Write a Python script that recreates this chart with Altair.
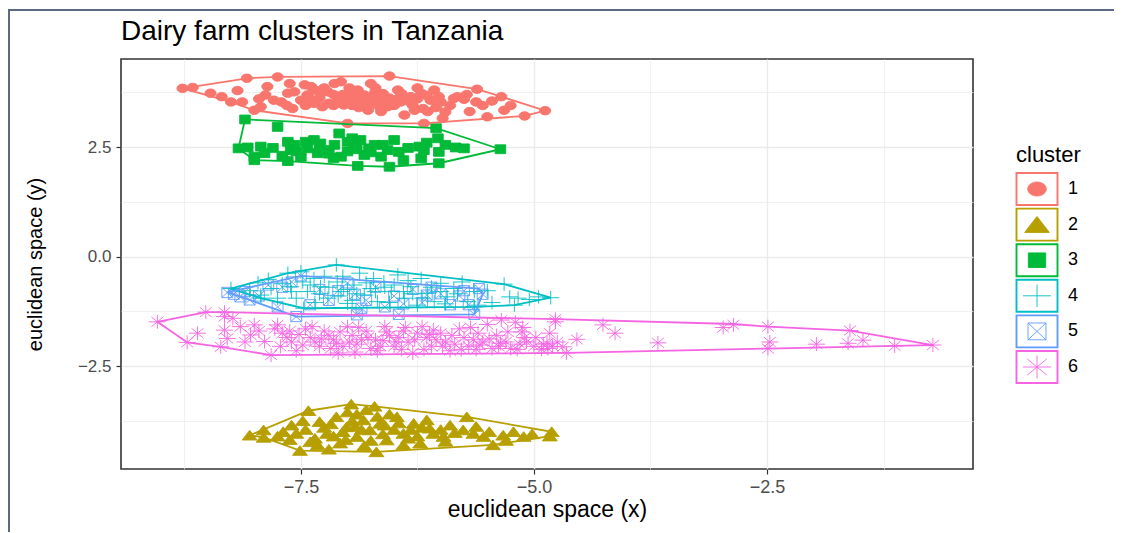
import altair as alt
import pandas as pd

clusters = ["1", "2", "3", "4", "5", "6"]
colors = ["#F8766D", "#B79F00", "#00BA38", "#00BFC4", "#619CFF", "#F564E3"]

# cluster points (x, y)
c1_pts = [(-8.77,3.84),(-8.66,3.86),(-8.47,3.73),(-8.25,3.53),(-8.18,3.79),(-8.13,3.53),(-8.08,4.07),(-7.93,3.42),(-8.00,3.34),(-7.86,3.88),(-7.88,3.69),(-7.75,4.10),(-7.79,3.57),(-7.71,3.53),(-7.64,3.73),(-7.57,3.76),(-7.59,3.38),(-7.50,3.57),(-7.46,3.92),(-7.43,3.69),(-7.39,3.88),(-7.36,3.50),(-7.29,3.73),(-7.27,3.42),(-7.21,3.76),(-7.14,3.95),(-7.11,3.65),(-7.07,3.99),(-7.04,3.46),(-7.00,3.04),(-6.96,3.73),(-6.93,3.61),(-6.89,3.80),(-6.85,3.50),(-6.82,3.69),(-6.78,3.34),(-6.75,3.95),(-6.71,3.73),(-6.68,3.57),(-6.64,3.31),(-6.61,3.65),(-6.57,3.42),(-6.55,4.12),(-6.53,3.57),(-6.46,3.80),(-6.43,3.53),(-6.39,3.23),(-6.32,3.65),(-6.28,3.34),(-6.21,3.73),(-6.19,3.38),(-6.18,3.04),(-6.14,3.31),(-6.11,3.57),(-6.07,3.80),(-6.00,3.53),(-5.98,3.16),(-5.86,3.61),(-5.82,3.65),(-5.75,3.59),(-5.69,3.31),(-5.62,3.53),(-5.61,3.82),(-5.50,3.19),(-5.35,3.65),(-5.32,3.34),(-5.10,3.21),(-4.88,3.33),(-7.00,3.55),(-6.90,3.70),(-6.80,3.58),(-6.70,3.65),(-6.60,3.50),(-7.10,3.60),(-7.20,3.50),(-6.75,3.47),(-6.65,3.40),(-6.95,3.45),(-7.30,3.62),(-6.50,3.45),(-7.40,3.60),(-6.35,3.55),(-6.25,3.60),(-7.05,3.70),(-6.85,3.62),(-6.62,3.72),(-6.90,3.55),(-7.15,3.45),(-6.45,3.62),(-6.98,3.85),(-6.70,3.85),(-7.35,3.80),(-5.90,3.45),(-5.55,3.45),(-6.05,3.40),(-7.95,3.60),(-7.65,3.45),(-7.45,3.45),(-7.25,3.85),(-7.15,3.70),(-6.98,3.60),(-6.88,3.40),(-6.72,3.52),(-6.55,3.62),(-6.42,3.72),(-6.30,3.45),(-6.15,3.68),(-6.02,3.65),(-5.95,3.30),(-5.72,3.70),(-5.45,3.55),(-5.25,3.45),(-8.35,3.65),(-7.62,3.95),(-6.25,3.85)]
c2_pts = [(-8.05,-4.08),(-7.90,-3.96),(-7.69,-4.00),(-7.55,-4.04),(-7.51,-4.43),(-7.42,-3.52),(-7.40,-4.23),(-7.30,-3.77),(-7.22,-4.04),(-7.12,-3.66),(-7.08,-4.26),(-7.01,-3.89),(-6.96,-3.37),(-6.90,-4.11),(-6.83,-3.73),(-6.76,-3.96),(-6.71,-3.42),(-6.69,-4.46),(-6.65,-3.81),(-6.58,-4.19),(-6.47,-3.66),(-6.40,-4.04),(-6.29,-3.81),(-6.22,-4.26),(-6.15,-3.73),(-6.08,-4.04),(-5.97,-4.11),(-5.90,-3.85),(-5.76,-3.96),(-5.72,-3.66),(-5.65,-4.04),(-5.54,-4.11),(-5.44,-4.30),(-5.33,-4.08),(-5.22,-4.00),(-5.11,-4.11),(-4.81,-4.00),(-4.83,-4.10),(-7.90,-4.13),(-7.60,-3.85),(-7.45,-3.95),(-7.25,-3.90),(-7.15,-4.10),(-6.95,-3.75),(-6.85,-3.95),(-6.75,-4.20),(-6.60,-3.85),(-6.50,-3.95),(-6.35,-4.15),(-6.20,-3.90),(-6.00,-3.95),(-7.35,-4.15),(-7.05,-4.00),(-6.90,-3.60),(-7.00,-3.55),(-6.80,-3.50),(-6.55,-3.60),(-7.75,-4.10),(-7.62,-4.18),(-7.48,-3.75),(-7.32,-4.30),(-7.18,-3.82),(-7.02,-4.18),(-6.92,-3.88),(-6.82,-4.32),(-6.68,-3.65),(-6.62,-4.05),(-6.45,-3.80),(-6.32,-3.95),(-6.25,-4.10),(-6.12,-3.92),(-5.95,-4.22),(-5.85,-4.02),(-5.62,-3.88),(-5.48,-4.00),(-5.30,-4.20),(-5.02,-4.05),(-7.20,-4.40),(-6.40,-4.30)]
c3_pts = [(-8.10,3.13),(-7.75,2.96),(-8.17,2.47),(-8.07,2.49),(-8.00,2.28),(-7.93,2.51),(-7.89,2.36),(-8.00,2.20),(-7.64,2.62),(-7.61,2.43),(-7.64,2.18),(-7.57,2.55),(-7.50,2.28),(-7.43,2.47),(-7.36,2.66),(-7.32,2.36),(-7.29,2.58),(-7.21,2.43),(-7.14,2.55),(-7.09,2.81),(-7.07,2.28),(-7.00,2.62),(-6.93,2.51),(-6.89,2.07),(-6.86,2.66),(-6.82,2.32),(-6.77,2.47),(-6.71,2.55),(-6.64,2.28),(-6.57,2.43),(-6.55,2.05),(-6.50,2.66),(-6.45,2.39),(-6.23,2.51),(-6.21,2.24),(-6.18,2.43),(-6.05,2.93),(-6.03,2.70),(-6.02,2.39),(-6.02,2.13),(-5.84,2.49),(-5.75,2.47),(-5.36,2.45),(-7.30,2.45),(-7.00,2.40),(-6.90,2.45),(-7.20,2.35),(-6.75,2.38),(-7.55,2.40),(-7.80,2.48),(-7.45,2.62),(-7.15,2.25),(-6.95,2.70),(-6.62,2.55),(-6.35,2.48),(-6.15,2.60),(-5.95,2.55),(-7.70,2.30),(-6.40,2.20)]
c4_pts = [(-8.25,-0.73),(-7.96,-0.60),(-7.93,-0.88),(-7.82,-0.73),(-7.75,-0.95),(-7.64,-0.38),(-7.61,-0.69),(-7.50,-0.35),(-7.48,-0.58),(-7.43,-0.80),(-7.36,-0.50),(-7.29,-0.69),(-7.21,-0.95),(-7.12,-0.19),(-7.11,-0.58),(-7.07,-0.80),(-7.00,-1.07),(-6.93,-0.65),(-6.87,-0.38),(-6.82,-0.88),(-6.75,-0.73),(-6.68,-1.03),(-6.61,-0.58),(-6.53,-0.80),(-6.46,-0.42),(-6.39,-0.95),(-6.32,-0.69),(-6.25,-1.11),(-6.21,-0.50),(-6.14,-0.84),(-6.07,-1.03),(-6.00,-0.61),(-5.93,-0.92),(-5.86,-0.73),(-5.77,-0.58),(-5.71,-1.03),(-5.64,-0.80),(-5.60,-1.11),(-5.32,-0.63),(-5.26,-0.92),(-5.17,-0.95),(-4.82,-0.94),(-5.21,-1.11),(-5.64,-1.15),(-7.47,-1.18),(-7.93,-0.95),(-7.20,-0.70),(-7.00,-0.75),(-6.90,-0.85),(-6.70,-0.80),(-6.60,-0.70),(-6.40,-0.80),(-7.30,-0.85),(-7.10,-0.90),(-6.50,-0.65),(-6.30,-0.85),(-6.80,-0.60),(-7.40,-0.65),(-7.60,-0.80),(-6.00,-0.80),(-6.10,-0.70),(-8.05,-0.78),(-7.85,-0.52),(-7.70,-0.62),(-7.55,-0.95),(-7.35,-1.05),(-7.25,-0.45),(-7.05,-0.45),(-6.95,-1.00),(-6.72,-0.50),(-6.55,-1.05),(-6.35,-0.55),(-6.20,-0.95),(-5.95,-1.08),(-5.82,-0.85),(-5.50,-0.78),(-5.45,-1.05),(-5.05,-0.98),(-4.95,-0.92)]
c5_pts = [(-8.29,-0.82),(-8.22,-0.86),(-8.10,-0.80),(-7.95,-0.90),(-7.50,-0.44),(-7.55,-1.37),(-7.30,-0.75),(-7.20,-1.00),(-7.00,-0.60),(-6.92,-0.86),(-6.80,-1.00),(-6.70,-0.70),(-6.50,-0.90),(-6.45,-1.32),(-6.30,-0.75),(-6.20,-1.05),(-6.00,-0.85),(-5.90,-1.10),(-5.80,-0.90),(-5.59,-0.73),(-5.55,-0.86),(-5.64,-1.32),(-6.90,-1.33),(-8.05,-0.99),(-7.70,-0.70),(-7.40,-1.10),(-6.60,-1.15),(-6.10,-0.70),(-5.75,-0.78),(-7.85,-0.65),(-8.15,-0.92),(-7.60,-0.58),(-7.10,-0.78),(-6.85,-1.18),(-6.40,-1.08),(-6.15,-0.88),(-5.70,-1.10),(-7.75,-1.15)]
c6_pts = [(-9.04,-1.49),(-8.52,-1.27),(-8.32,-1.27),(-8.32,-1.37),(-8.23,-1.41),(-8.61,-1.75),(-8.72,-1.96),(-8.32,-1.68),(-8.29,-1.87),(-8.36,-2.06),(-8.04,-1.79),(-8.00,-1.56),(-7.89,-1.94),(-7.82,-2.25),(-7.75,-1.56),(-7.70,-1.75),(-7.60,-1.95),(-7.55,-2.15),(-7.45,-1.65),(-7.40,-1.85),(-7.30,-2.05),(-7.25,-1.70),(-7.15,-1.90),(-7.10,-2.20),(-7.00,-1.60),(-6.95,-1.80),(-6.90,-2.00),(-6.80,-1.70),(-6.75,-2.10),(-6.70,-1.90),(-6.60,-1.60),(-6.55,-1.80),(-6.50,-2.05),(-6.40,-1.70),(-6.35,-1.95),(-6.30,-2.20),(-6.20,-1.60),(-6.15,-1.85),(-6.10,-2.05),(-6.00,-1.75),(-5.95,-1.95),(-5.90,-2.15),(-5.80,-1.65),(-5.75,-1.85),(-5.70,-2.05),(-5.60,-1.75),(-5.55,-1.95),(-5.50,-1.55),(-5.45,-2.10),(-5.40,-1.80),(-5.30,-1.95),(-5.25,-2.10),(-5.15,-2.00),(-5.10,-1.85),(-5.00,-2.05),(-4.90,-2.00),(-4.85,-2.10),(-4.75,-1.95),(-7.65,-1.85),(-7.20,-1.80),(-6.85,-1.90),(-6.45,-1.85),(-6.05,-1.90),(-5.65,-1.90),(-7.35,-1.95),(-6.25,-1.75),(-5.85,-2.00),(-7.05,-2.05),(-6.65,-2.05),(-5.20,-1.50),(-5.35,-1.45),(-4.77,-1.49),(-4.83,-1.75),(-5.13,-1.72),(-4.86,-1.98),(-4.69,-2.06),(-4.54,-1.89),(-4.26,-1.56),(-4.13,-1.75),(-3.67,-1.97),(-2.97,-1.62),(-2.86,-1.56),(-2.49,-1.60),(-2.47,-1.95),(-1.97,-2.00),(-1.61,-1.69),(-1.63,-1.98),(-1.47,-1.91),(-1.13,-2.04),(-0.72,-2.02),(-5.36,-1.98),(-4.65,-2.20),(-2.49,-2.10),(-4.77,-1.43),(-7.78,-1.65),(-7.62,-1.70),(-7.48,-2.02),(-7.38,-1.60),(-7.28,-1.88),(-7.18,-2.10),(-7.08,-1.72),(-6.98,-1.95),(-6.88,-1.62),(-6.78,-1.85),(-6.68,-2.15),(-6.58,-1.72),(-6.48,-1.95),(-6.38,-1.62),(-6.28,-1.90),(-6.18,-2.12),(-6.08,-1.68),(-5.98,-2.05),(-5.88,-1.80),(-5.78,-2.12),(-5.68,-1.62),(-5.58,-2.02),(-5.48,-1.88),(-5.38,-2.05),(-5.28,-1.72),(-5.18,-2.12),(-5.08,-1.95),(-4.98,-1.85),(-4.92,-2.12),(-4.80,-2.05),(-7.52,-1.78),(-7.12,-1.98),(-6.62,-1.92),(-6.12,-1.78),(-5.62,-2.12),(-5.12,-1.62),(-6.92,-2.18),(-6.42,-2.12),(-7.72,-2.05),(-8.10,-1.95),(-7.95,-1.70),(-8.15,-1.60)]

# convex hull vertices per cluster
h1 = [(-8.77,3.84),(-8.08,4.07),(-7.75,4.10),(-6.55,4.12),(-5.61,3.82),(-5.35,3.65),(-4.88,3.33),(-5.10,3.21),(-6.18,3.04),(-7.00,3.04),(-8.00,3.34),(-8.25,3.53)]
h2 = [(-8.05,-4.08),(-7.42,-3.52),(-6.96,-3.37),(-6.71,-3.42),(-5.72,-3.66),(-4.81,-4.00),(-4.83,-4.10),(-5.44,-4.30),(-6.69,-4.46),(-7.51,-4.43),(-7.90,-4.13)]
h3 = [(-8.10,3.13),(-6.05,2.93),(-5.36,2.45),(-6.02,2.13),(-6.55,2.05),(-6.89,2.07),(-7.64,2.18),(-8.00,2.20),(-8.17,2.47)]
h4 = [(-8.25,-0.73),(-7.64,-0.38),(-7.12,-0.19),(-5.32,-0.63),(-4.82,-0.94),(-5.21,-1.11),(-5.64,-1.15),(-7.47,-1.18),(-7.93,-0.95)]
h5 = [(-8.29,-0.82),(-7.50,-0.44),(-5.59,-0.73),(-5.55,-0.86),(-5.64,-1.32),(-7.55,-1.37),(-8.05,-0.99)]
h6 = [(-9.04,-1.49),(-8.52,-1.27),(-8.32,-1.27),(-4.77,-1.43),(-2.86,-1.54),(-2.49,-1.60),(-1.61,-1.69),(-0.72,-2.02),(-1.13,-2.04),(-2.49,-2.10),(-4.65,-2.20),(-7.82,-2.25),(-8.36,-2.06),(-8.72,-1.96)]

x_ticks = [-8.75, -7.5, -6.25, -5.0, -3.75, -2.5, -1.25]
y_ticks = [-3.75, -2.5, -1.25, 0.0, 1.25, 2.5, 3.75]

# symbol shapes (ggplot shapes 16, 17, 15, 3, 7, 8)
shape_paths = [
    "M-0.66,0A0.66,0.5 0 1,0 0.66,0A0.66,0.5 0 1,0 -0.66,0Z",
    "M0,-0.58L0.88,0.56L-0.88,0.56Z",
    "M-0.62,-0.52L0.62,-0.52L0.62,0.52L-0.62,0.52Z",
    "M-1,0L1,0M0,-0.8L0,0.8",
    "M-0.64,-0.6L0.64,-0.6M0.64,-0.6L0.64,0.6M0.64,0.6L-0.64,0.6M-0.64,0.6L-0.64,-0.6M-0.64,-0.6L0.64,0.6M0.64,-0.6L-0.64,0.6",
    "M-1,0L1,0M0,-0.82L0,0.82M-0.7,-0.58L0.7,0.58M-0.7,0.58L0.7,-0.58",
]
stroke_widths = [0.9, 0.9, 0.9, 2.0, 1.7, 2.1]
box_path = "M-1,-0.78L1,-0.78L1,0.78L-1,0.78Z"

FONT = "Liberation Sans"

draw_order = [("1", c1_pts), ("2", c2_pts), ("3", c3_pts), ("5", c5_pts), ("4", c4_pts), ("6", c6_pts)]
rows = []
for c, pts in draw_order:
    for x, y in pts:
        rows.append({"cluster": c, "x": x, "y": y})
points_df = pd.DataFrame(rows)

hrows = []
for c, hull in zip(clusters, [h1, h2, h3, h4, h5, h6]):
    closed = hull + [hull[0]]
    for i, (x, y) in enumerate(closed):
        hrows.append({"cluster": c, "x": x, "y": y, "i": i})
hull_df = pd.DataFrame(hrows)

xscale = alt.Scale(domain=[-9.43, -0.29], nice=False, zero=False)
yscale = alt.Scale(domain=[-4.85, 4.51], nice=False, zero=False)
cscale = alt.Scale(domain=clusters, range=colors)
sscale = alt.Scale(domain=clusters, range=shape_paths)
wscale = alt.Scale(domain=clusters, range=stroke_widths)

minor_test = "datum.value % 2.5 != 0"
common_axis = dict(
    gridColor="#ebebeb",
    gridWidth={"condition": {"test": minor_test, "value": 0.7}, "value": 1.4},
    tickOpacity={"condition": {"test": minor_test, "value": 0}, "value": 1},
    labelExpr="datum.value % 2.5 == 0 ? format(datum.value, '.1f') : ''",
    tickColor="#333333", tickSize=5, tickWidth=1.2, domain=False,
    labelColor="#4d4d4d", labelFont=FONT,
    titleFont=FONT, titleColor="black", titleFontWeight="normal",
)
x_axis = alt.Axis(values=x_ticks, title="euclidean space (x)", labelPadding=4, titlePadding=2,
                  labelFontSize=18, titleFontSize=23, labelFlush=False, **common_axis)
y_axis = alt.Axis(values=y_ticks, title="euclidean space (y)", labelPadding=5, titlePadding=32,
                  labelFontSize=17, titleFontSize=20, labelFlush=False, **common_axis)

hull = alt.Chart(hull_df).mark_line(strokeWidth=1.8).encode(
    x=alt.X("x:Q", scale=xscale, axis=x_axis),
    y=alt.Y("y:Q", scale=yscale, axis=y_axis),
    color=alt.Color("cluster:N", scale=cscale, legend=None),
    order=alt.Order("i:Q"),
)
points = alt.Chart(points_df).mark_point(filled=True, opacity=1, size=289).encode(
    x=alt.X("x:Q", scale=xscale, axis=x_axis),
    y=alt.Y("y:Q", scale=yscale, axis=y_axis),
    color=alt.Color("cluster:N", scale=cscale, legend=None),
    stroke=alt.Stroke("cluster:N", scale=cscale, legend=None),
    strokeWidth=alt.StrokeWidth("cluster:N", scale=wscale, legend=None),
    shape=alt.Shape("cluster:N", scale=sscale, legend=None),
)
main = alt.layer(points, hull)

# legend drawn by hand
leg_df = pd.DataFrame({"cluster": clusters})
leg_y = alt.Y("cluster:N", scale=alt.Scale(type="point", domain=clusters, range=[130, 308], padding=0), axis=None)
leg_box = alt.Chart(leg_df).mark_point(shape=box_path, size=1681, filled=False, strokeWidth=1.9, opacity=1).encode(
    x=alt.value(916), y=leg_y, color=alt.Color("cluster:N", scale=cscale, legend=None))
leg_sym = alt.Chart(leg_df).mark_point(filled=True, opacity=1, size=784).encode(
    x=alt.value(916), y=leg_y,
    color=alt.Color("cluster:N", scale=cscale, legend=None),
    stroke=alt.Stroke("cluster:N", scale=cscale, legend=None),
    strokeWidth=alt.StrokeWidth("cluster:N", scale=wscale, legend=None),
    shape=alt.Shape("cluster:N", scale=sscale, legend=None))
leg_lab = alt.Chart(leg_df).mark_text(align="left", baseline="middle", font=FONT, fontSize=18, color="black").encode(
    x=alt.value(947), y=leg_y, text="cluster:N")
leg_title = alt.Chart(pd.DataFrame({"t": ["cluster"]})).mark_text(
    align="left", baseline="alphabetic", font=FONT, fontSize=22, color="black").encode(
    x=alt.value(895), y=alt.value(103), text="t:N")
legend = alt.layer(leg_box, leg_sym, leg_lab, leg_title)

one = pd.DataFrame({"a": [0]})
title = alt.Chart(pd.DataFrame({"t": ["Dairy farm clusters in Tanzania"]})).mark_text(
    align="left", baseline="alphabetic", font=FONT, fontSize=28, color="black").encode(
    x=alt.value(0), y=alt.value(-19), text="t:N")
frame_h = alt.Chart(one).mark_rule(color="#5b6987", strokeWidth=2).encode(
    x=alt.value(-113), x2=alt.value(1010), y=alt.value(-49))
frame_v = alt.Chart(one).mark_rule(color="#5b6987", strokeWidth=2).encode(
    x=alt.value(-112), y=alt.value(-49), y2=alt.value(480))

chart = alt.layer(frame_h, frame_v, title, main, legend).resolve_scale(y="independent").properties(
    width=852, height=410,
    autosize=alt.AutoSizeParams(type="none"),
    padding={"left": 113, "top": 51, "right": 141, "bottom": 63},
).configure_view(stroke="#333333", strokeWidth=1.6)

chart.save("out.html", embed_options={"renderer": "svg", "actions": False})
